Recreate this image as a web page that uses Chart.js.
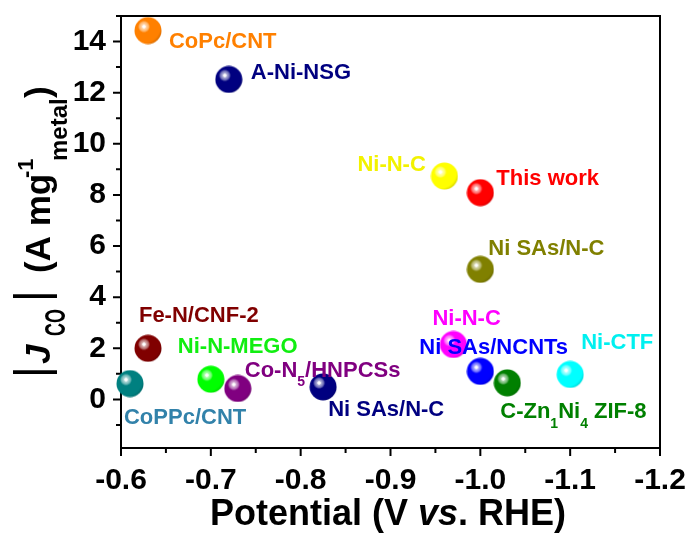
<!DOCTYPE html>
<html>
<head>
<meta charset="utf-8">
<script src="https://cdn.jsdelivr.net/npm/chart.js@4.4.1/dist/chart.umd.min.js"></script>
<style>
  body { margin: 0; background: #fff; }
  #wrap { width: 691px; height: 536px; }
</style>
</head>
<body>
<div id="wrap"><canvas id="jco_chart"></canvas></div>
<script>
// données
const materials = ['CoPc/CNT', 'A-Ni-NSG', 'Ni-N-C', 'This work', 'Ni SAs/N-C', 'Fe-N/CNF-2', 'CoPPc/CNT',
  'Ni-N-MEGO', 'Co-N_5/HNPCSs', 'Ni SAs/N-C', 'Ni-N-C', 'Ni SAs/NCNTs', 'C-Zn_1Ni_4 ZIF-8', 'Ni-CTF'];
const potential = [-0.63, -0.72, -0.96, -1.00, -1.00, -0.63, -0.61, -0.70, -0.73, -0.825, -0.97, -1.00, -1.03, -1.10];
const jco = [14.43, 12.52, 8.74, 8.09, 5.09, 2.00, 0.62, 0.79, 0.43, 0.49, 2.15, 1.10, 0.65, 0.98];

const xTicks = [-0.6, -0.7, -0.8, -0.9, -1.0, -1.1, -1.2];
const xMinor = [-0.65, -0.75, -0.85, -0.95, -1.05, -1.15];
const yTicks = [0, 2, 4, 6, 8, 10, 12, 14];
const yMinor = [-1, 1, 3, 5, 7, 9, 11, 13, 15];

// styles
const ballColors = ['#ff8000', '#000080', '#ffff00', '#ff0000', '#808000', '#800000', '#008080',
  '#00ff00', '#800080', '#000080', '#ff00ff', '#0000ff', '#008000', '#00ffff'];
const textColors = ['#ff8000', '#000080', '#f2f200', '#ff0000', '#808000', '#800000', '#3282aa',
  '#11ee11', '#800080', '#000080', '#ff00ff', '#0000ff', '#008000', '#00f0f0'];
// décalage du texte par rapport au point (px)
const labelOffsets = [[21, 11], [22, -6], [-87, -11], [16, -14], [8, -20], [-9, -32], [-6, 34],
  [-33, -32], [7, -18], [5, 23], [-21, -26], [-61, -23], [-7, 29], [11, -31]];

const FONT = '"Liberation Sans", Arial, sans-serif';

function shade(hex, f) {
  // f > 0 : vers le blanc, f < 0 : vers le noir
  const n = parseInt(hex.slice(1), 16);
  let c = [(n >> 16) & 255, (n >> 8) & 255, n & 255];
  c = c.map(v => f >= 0 ? Math.round(v + (255 - v) * f) : Math.round(v * (1 + f)));
  return 'rgb(' + c.join(',') + ')';
}

function makeBall(color) {
  const cv = document.createElement('canvas');
  cv.width = 28; cv.height = 28;
  const c = cv.getContext('2d');
  const g = c.createRadialGradient(10, 10, 0, 10, 10, 19);
  g.addColorStop(0, '#ffffff');
  g.addColorStop(0.07, '#ffffff');
  g.addColorStop(0.11, shade(color, 0.7));
  g.addColorStop(0.24, shade(color, 0.4));
  g.addColorStop(0.32, color);
  g.addColorStop(0.85, color);
  g.addColorStop(1, shade(color, -0.15));
  c.fillStyle = g;
  c.beginPath();
  c.arc(14, 14, 13.5, 0, Math.PI * 2);
  c.fill();
  return cv;
}
const balls = ballColors.map(makeBall);

function drawRich(ctx, text, x, y, size) {
  const parts = text.split(/(_.)/).filter(p => p.length);
  let cx = x;
  parts.forEach(p => {
    if (p[0] === '_') {
      ctx.font = 'bold ' + Math.round(size * 0.64) + 'px ' + FONT;
      ctx.fillText(p[1], cx, y + 12);
      cx += ctx.measureText(p[1]).width;
    } else {
      ctx.font = 'bold ' + size + 'px ' + FONT;
      ctx.fillText(p, cx, y);
      cx += ctx.measureText(p).width;
    }
  });
}

const decorPlugin = {
  id: 'decor',
  beforeDatasetsDraw(chart) {
    const { ctx, chartArea: a, scales: { x, y } } = chart;
    ctx.save();
    ctx.strokeStyle = '#000';
    ctx.lineWidth = 2;
    ctx.strokeRect(a.left, a.top, a.right - a.left, a.bottom - a.top);
    ctx.beginPath();
    xTicks.forEach(v => { const p = x.getPixelForValue(v); ctx.moveTo(p, a.bottom); ctx.lineTo(p, a.bottom + 8); });
    xMinor.forEach(v => { const p = x.getPixelForValue(v); ctx.moveTo(p, a.bottom); ctx.lineTo(p, a.bottom + 5); });
    yTicks.forEach(v => { const p = y.getPixelForValue(v); ctx.moveTo(a.left, p); ctx.lineTo(a.left - 8, p); });
    yMinor.forEach(v => { const p = y.getPixelForValue(v); ctx.moveTo(a.left, p); ctx.lineTo(a.left - 5, p); });
    ctx.stroke();
    ctx.restore();
  },
  afterDatasetsDraw(chart) {
    const { ctx } = chart;
    const meta = chart.getDatasetMeta(0);
    ctx.save();
    ctx.textAlign = 'left';
    ctx.textBaseline = 'middle';
    meta.data.forEach((pt, i) => {
      ctx.fillStyle = textColors[i];
      drawRich(ctx, materials[i], pt.x + labelOffsets[i][0], pt.y + labelOffsets[i][1], 22);
    });
    ctx.restore();
  },
  afterDraw(chart) {
    const { ctx } = chart;
    ctx.save();
    ctx.fillStyle = '#000';
    ctx.textBaseline = 'alphabetic';
    ctx.textAlign = 'left';

    // titre axe X
    const runs = [['Potential (V ', 'bold'], ['vs', 'italic bold'], ['. RHE)', 'bold']];
    let w = 0;
    runs.forEach(r => { ctx.font = r[1] + ' 36px ' + FONT; w += ctx.measureText(r[0]).width; });
    let cx = 388 - w / 2;
    runs.forEach(r => { ctx.font = r[1] + ' 36px ' + FONT; ctx.fillText(r[0], cx, 525); cx += ctx.measureText(r[0]).width; });

    // titre axe Y (vertical)
    ctx.translate(50, 0);
    ctx.rotate(-Math.PI / 2);
    const yRuns = [
      { t: '|', f: 'normal 46px', at: 378, dv: -3 },
      { t: 'J', f: 'italic bold 35px', at: 364, dv: 0 },
      { t: 'CO', f: 'bold 30px', at: 336, dv: 15, sx: 0.6 },
      { t: '|', f: 'normal 46px', at: 302, dv: -3 },
      { t: '(A mg', f: 'bold 35px', at: 273, dv: 0 },
      { t: '-1', f: 'bold 22px', at: 178, dv: -17 },
      { t: 'metal', f: 'bold 24px', at: 161, dv: 17 },
      { t: ')', f: 'bold 35px', at: 98, dv: 0 }
    ];
    yRuns.forEach(r => {
      ctx.font = r.f + ' ' + FONT;
      if (r.sx) {
        ctx.save();
        ctx.translate(-r.at, r.dv);
        ctx.scale(r.sx, 1);
        ctx.fillText(r.t, 0, 0);
        ctx.restore();
      } else {
        ctx.fillText(r.t, -r.at, r.dv);
      }
    });
    ctx.restore();
  }
};

const ctx_jco = document.getElementById('jco_chart');

new Chart(ctx_jco, {
  type: 'scatter',
  data: {
    datasets: [{
      data: potential.map((v, i) => ({ x: v, y: jco[i] })),
      pointStyle: balls,
      pointRadius: 14,
      pointHoverRadius: 14,
      clip: false
    }]
  },
  options: {
    responsive: true,
    maintainAspectRatio: false,
    animation: false,
    events: [],
    layout: { padding: { left: 0, top: 16, right: 31, bottom: 0 } },
    scales: {
      x: {
        type: 'linear',
        min: -1.2,
        max: -0.6,
        reverse: true,
        afterFit: s => { s.height = 88; s.paddingLeft = 0; s.paddingRight = 0; },
        afterBuildTicks: s => { s.ticks = xTicks.map(v => ({ value: v })); },
        grid: { display: false, drawTicks: false },
        border: { display: false },
        ticks: {
          padding: 15,
          color: '#000',
          font: { family: FONT, size: 30, weight: 'bold' },
          maxRotation: 0,
          autoSkip: false,
          callback: v => v.toFixed(1)
        }
      },
      y: {
        type: 'linear',
        min: -1.9,
        max: 15,
        afterFit: s => { s.width = 121; s.paddingTop = 0; s.paddingBottom = 0; },
        afterBuildTicks: s => { s.ticks = yTicks.map(v => ({ value: v })); },
        grid: { display: false, drawTicks: false },
        border: { display: false },
        ticks: {
          padding: 15,
          color: '#000',
          font: { family: FONT, size: 30, weight: 'bold' },
          autoSkip: false,
          callback: v => String(v)
        }
      }
    },
    plugins: {
      legend: { display: false },
      tooltip: { enabled: false },
      title: { display: false }
    }
  },
  plugins: [decorPlugin]
});
</script>
</body>
</html>
